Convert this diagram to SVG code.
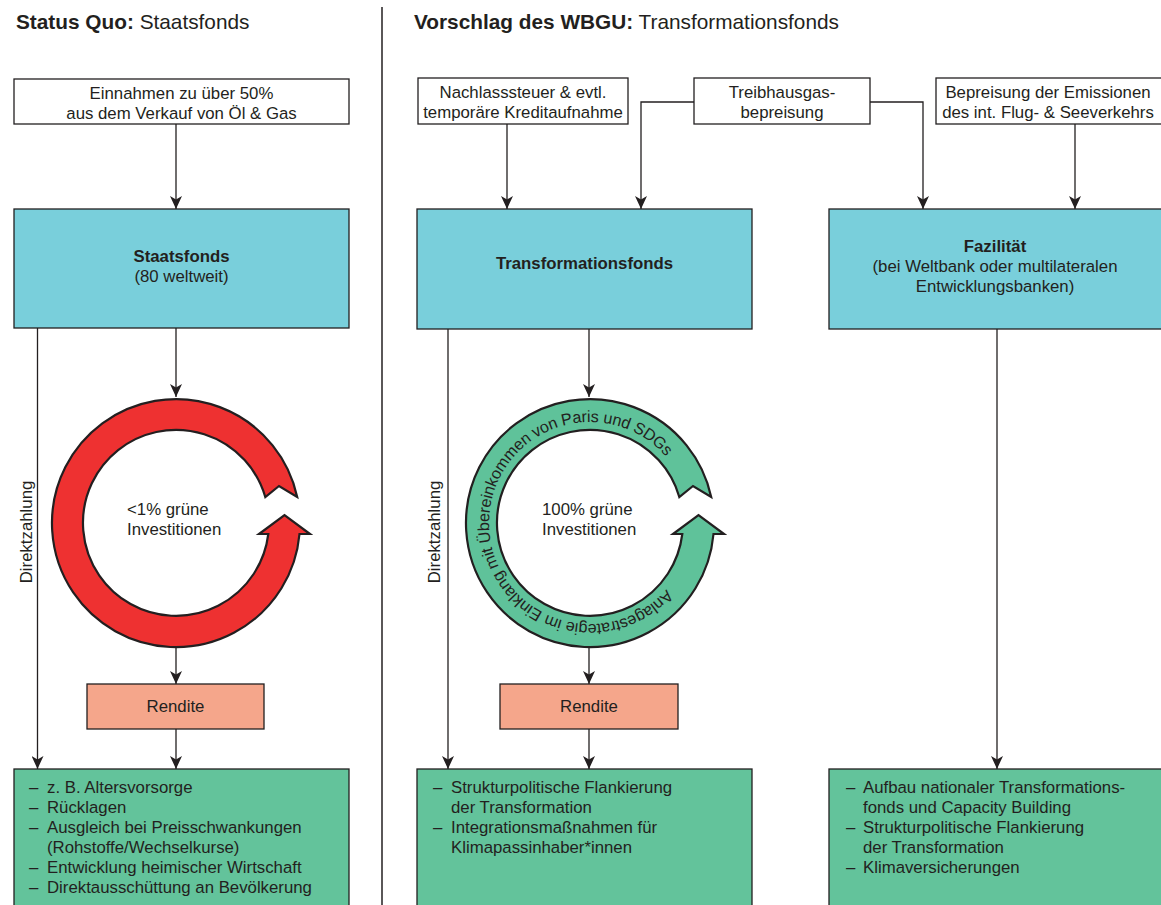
<svg xmlns="http://www.w3.org/2000/svg" width="1161" height="905" viewBox="0 0 1161 905">
<defs>
<style>
text{font-family:"Liberation Sans",Arial,Helvetica,sans-serif;font-size:16.8px;fill:#231f20}
.h{font-size:20.8px}
.b{font-weight:bold}
.c{text-anchor:middle}
.rt{font-size:16.2px;letter-spacing:-0.2px}
.box{stroke:#231f20;stroke-width:1.3}
.w{fill:#fff}
.cy{fill:#79cfdb}
.gr{fill:#63c39b}
.re{fill:#f5a68b}
.con{fill:none;stroke:#231f20;stroke-width:1.3}
.ring{stroke:#231f20;stroke-width:2.2;stroke-linejoin:miter}
</style>
<marker id="ah" viewBox="0 0 13 12" refX="13" refY="6" markerWidth="13" markerHeight="12" orient="auto" markerUnits="userSpaceOnUse"><path d="M0,0 L13,6 L0,12 L3.5,6 Z" fill="#231f20"/></marker>
<path id="tp" d="M666.2,589.3 A101,101 0 1,1 681.5,480.3"/>
</defs>
<rect width="1161" height="905" fill="#fff"/>

<g id="headers">
<text x="16" y="29" class="h"><tspan class="b">Status Quo:</tspan> Staatsfonds</text>
<text x="414" y="29" class="h"><tspan class="b">Vorschlag des WBGU:</tspan> Transformationsfonds</text>
<line x1="382" y1="7" x2="382" y2="905" stroke="#231f20" stroke-width="1.5"/>
</g>

<g id="connectors">
<path class="con" d="M176,124 V209" marker-end="url(#ah)"/>
<path class="con" d="M176,328 V397" marker-end="url(#ah)"/>
<path class="con" d="M176,647 V684" marker-end="url(#ah)"/>
<path class="con" d="M176,729 V769" marker-end="url(#ah)"/>
<path class="con" d="M37.5,328 V769" marker-end="url(#ah)"/>
<path class="con" d="M507,124 V209" marker-end="url(#ah)"/>
<path class="con" d="M694,102 H641 V209" marker-end="url(#ah)"/>
<path class="con" d="M870,102 H923 V209" marker-end="url(#ah)"/>
<path class="con" d="M1075,124 V209" marker-end="url(#ah)"/>
<path class="con" d="M448,329 V769" marker-end="url(#ah)"/>
<path class="con" d="M589,329 V397" marker-end="url(#ah)"/>
<path class="con" d="M589,647 V684" marker-end="url(#ah)"/>
<path class="con" d="M589,729 V769" marker-end="url(#ah)"/>
<path class="con" d="M997,329 V769" marker-end="url(#ah)"/>
<text transform="translate(32,532) rotate(-90)" class="c">Direktzahlung</text>
<text transform="translate(440,532) rotate(-90)" class="c">Direktzahlung</text>
</g>

<g id="einnahmen">
<rect class="box w" x="14" y="79" width="335" height="45"/>
<text x="181.5" y="99" class="c">Einnahmen zu über 50%</text>
<text x="181.5" y="119" class="c">aus dem Verkauf von Öl &amp; Gas</text>
</g>

<g id="staatsfonds">
<rect class="box cy" x="14" y="209" width="335" height="119"/>
<text x="181.5" y="262" class="c b">Staatsfonds</text>
<text x="181.5" y="282" class="c">(80 weltweit)</text>
</g>

<g id="ring-red">
<path class="ring" fill="#ee3131" d="M265.3,497 A93,93 0 1,0 268.3,534 L259,534 L284.5,515 L310,534 L299.5,534 A124,124 0 1,1 297.2,497 L279,486 Z"/>
<text x="127" y="515">&lt;1% grüne</text>
<text x="127" y="535">Investitionen</text>
</g>

<g id="rendite-left">
<rect class="box re" x="87" y="684" width="177" height="45"/>
<text x="175.5" y="712" class="c">Rendite</text>
</g>

<g id="verwendung-left">
<rect class="box gr" x="14" y="769" width="335" height="140"/>
<text x="29" y="793">–</text><text x="47" y="793">z. B. Altersvorsorge</text>
<text x="29" y="813">–</text><text x="47" y="813">Rücklagen</text>
<text x="29" y="833">–</text><text x="47" y="833">Ausgleich bei Preisschwankungen</text>
<text x="47" y="853">(Rohstoffe/Wechselkurse)</text>
<text x="29" y="873">–</text><text x="47" y="873">Entwicklung heimischer Wirtschaft</text>
<text x="29" y="893">–</text><text x="47" y="893">Direktausschüttung an Bevölkerung</text>
</g>

<g id="nachlass">
<rect class="box w" x="418" y="78" width="210" height="46"/>
<text x="523" y="98" class="c">Nachlasssteuer &amp; evtl.</text>
<text x="523" y="118" class="c">temporäre Kreditaufnahme</text>
</g>

<g id="treibhaus">
<rect class="box w" x="694" y="78" width="176" height="46"/>
<text x="782" y="98" class="c">Treibhausgas-</text>
<text x="782" y="118" class="c">bepreisung</text>
</g>

<g id="flugsee">
<rect class="box w" x="936" y="78" width="230" height="46"/>
<text x="1048" y="98" class="c">Bepreisung der Emissionen</text>
<text x="1048" y="118" class="c">des int. Flug- &amp; Seeverkehrs</text>
</g>

<g id="transformationsfonds">
<rect class="box cy" x="417" y="209" width="335" height="120"/>
<text x="584.5" y="269" class="c b">Transformationsfonds</text>
</g>

<g id="fazilitaet">
<rect class="box cy" x="829" y="209" width="340" height="120"/>
<text x="995" y="252" class="c b">Fazilität</text>
<text x="995" y="272" class="c">(bei Weltbank oder multilateralen</text>
<text x="995" y="292" class="c">Entwicklungsbanken)</text>
</g>

<g id="ring-green">
<path class="ring" fill="#5fc29a" d="M679.3,497 A93,93 0 1,0 682.3,534 L673,534 L698.5,515 L724,534 L713.5,534 A124,124 0 1,1 711.2,497 L693,486 Z"/>
<text class="rt"><textPath href="#tp">Anlagestrategie im Einklang mit Übereinkommen von Paris und SDGs</textPath></text>
<text x="542" y="515">100% grüne</text>
<text x="542" y="535">Investitionen</text>
</g>

<g id="rendite-right">
<rect class="box re" x="500" y="684" width="178" height="45"/>
<text x="589" y="712" class="c">Rendite</text>
</g>

<g id="verwendung-mid">
<rect class="box gr" x="417" y="769" width="335" height="140"/>
<text x="433" y="793">–</text><text x="451" y="793">Strukturpolitische Flankierung</text>
<text x="451" y="813">der Transformation</text>
<text x="433" y="833">–</text><text x="451" y="833">Integrationsmaßnahmen für</text>
<text x="451" y="853">Klimapassinhaber*innen</text>
</g>

<g id="verwendung-right">
<rect class="box gr" x="829" y="769" width="340" height="140"/>
<text x="846" y="793">–</text><text x="863" y="793">Aufbau nationaler Transformations-</text>
<text x="863" y="813">fonds und Capacity Building</text>
<text x="846" y="833">–</text><text x="863" y="833">Strukturpolitische Flankierung</text>
<text x="863" y="853">der Transformation</text>
<text x="846" y="873">–</text><text x="863" y="873">Klimaversicherungen</text>
</g>
</svg>
